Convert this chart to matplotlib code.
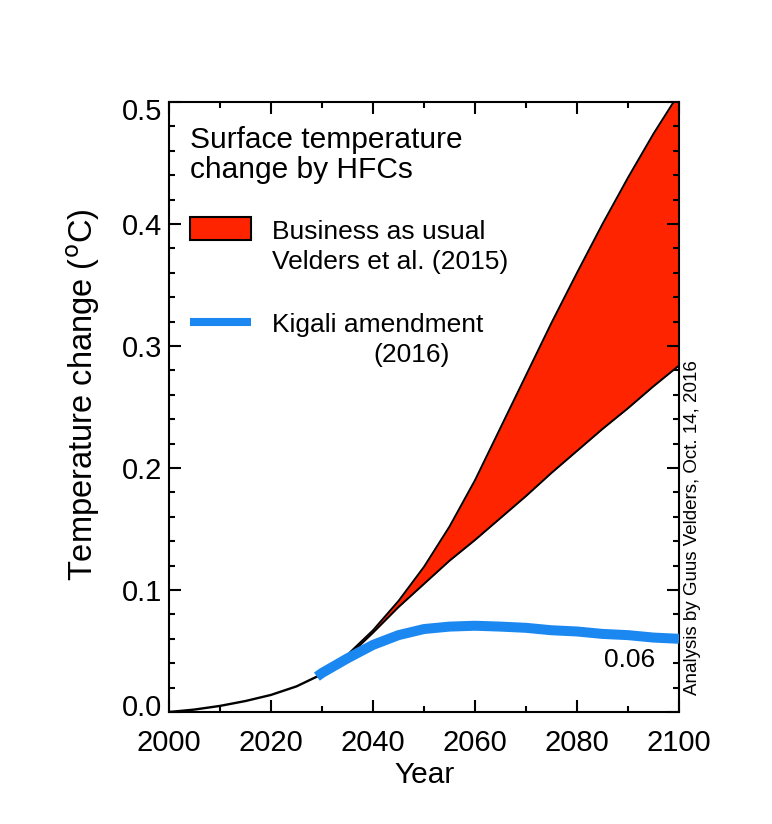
import matplotlib
matplotlib.use("Agg")
import matplotlib.pyplot as plt
import matplotlib.transforms as mtransforms
from matplotlib.patches import Rectangle
from matplotlib.lines import Line2D

plt.rcParams['font.family'] = ['Liberation Sans', 'DejaVu Sans']

# ---- data ----
hist_years = [2000, 2005, 2010, 2015, 2020, 2025, 2030]
hist_temp = [0.0, 0.002, 0.005, 0.009, 0.014, 0.021, 0.031]

bau_years = [2030, 2035, 2040, 2045, 2050, 2055, 2060, 2065, 2070, 2075,
             2080, 2085, 2090, 2095, 2100]
bau_high = [0.031, 0.047, 0.067, 0.091, 0.119, 0.152, 0.190, 0.233, 0.276,
            0.319, 0.360, 0.400, 0.438, 0.474, 0.507]
bau_low = [0.031, 0.045, 0.065, 0.086, 0.105, 0.124, 0.141, 0.159, 0.177,
           0.196, 0.214, 0.232, 0.249, 0.267, 0.284]

kigali_years = [2029, 2030, 2035, 2040, 2045, 2050, 2055, 2060, 2065, 2070,
                2075, 2080, 2085, 2090, 2095, 2100]
kigali_temp = [0.029, 0.032, 0.044, 0.055, 0.063, 0.068, 0.070, 0.0707, 0.070,
               0.069, 0.067, 0.066, 0.064, 0.063, 0.061, 0.060]

x_ticks = [2000, 2020, 2040, 2060, 2080, 2100]
y_ticks = [0.0, 0.1, 0.2, 0.3, 0.4, 0.5]
y_ticklabels = ['0.0', '0.1', '0.2', '0.3', '0.4', '0.5']

RED = '#ff2400'
BLUE = '#1a88f0'

fig = plt.figure(figsize=(7.72, 8.24), dpi=100)
ax = fig.add_axes([169 / 772, 1 - 712 / 824, 510 / 772, 610 / 824])

ax.fill_between(bau_years, bau_low, bau_high, color=RED, lw=0, zorder=1)
ax.plot(bau_years, bau_high, color='black', lw=1.4, zorder=2)
ax.plot(bau_years, bau_low, color='black', lw=1.4, zorder=2)
ax.plot(hist_years, hist_temp, color='black', lw=1.7, zorder=2)
ax.plot(kigali_years, kigali_temp, color=BLUE, lw=7.2,
        solid_capstyle='butt', zorder=3)

ax.set_xlim(2000, 2100)
ax.set_ylim(0.0, 0.5)
ax.set_xticks(x_ticks)
ax.set_xticks(range(2000, 2101, 10), minor=True)
ax.set_yticks(y_ticks)
ax.set_yticklabels(y_ticklabels)
ax.set_yticks([i * 0.02 for i in range(26)], minor=True)

ax.tick_params(which='both', direction='in', top=True, right=True,
               labelsize=21, width=1.5)
ax.tick_params(which='major', length=8.5)
ax.tick_params(which='minor', length=4.3)
ax.tick_params(axis='x', which='major', pad=12)
ax.tick_params(axis='y', which='major', pad=5)
for sp in ax.spines.values():
    sp.set_linewidth(1.5)

# IDL-like offsets for first/last y labels
ylabels = ax.get_yticklabels()
ylabels[0].set_transform(ylabels[0].get_transform() +
                         mtransforms.ScaledTranslation(0, 7 / 100, fig.dpi_scale_trans))
ylabels[-1].set_transform(ylabels[-1].get_transform() +
                          mtransforms.ScaledTranslation(0, -7 / 100, fig.dpi_scale_trans))

ax.set_xlabel('Year', fontsize=21.5, va='top')
ax.xaxis.set_label_coords(0.502, -0.080)
ax.set_ylabel('Temperature change ($^{\\rm o}$C)', fontsize=23.5)
ax.yaxis.set_label_coords(-0.131, 0.52)

# legend-like annotations
ax.text(0.041, 0.9246, 'Surface temperature', transform=ax.transAxes,
        fontsize=21.5, va='baseline', ha='left')
ax.text(0.041, 0.8754, 'change by HFCs', transform=ax.transAxes,
        fontsize=21.5, va='baseline', ha='left')
ax.add_patch(Rectangle((0.0412, 0.7738), 0.1196, 0.0377, transform=ax.transAxes,
                       facecolor=RED, edgecolor='black', lw=1.5, zorder=5))
ax.text(0.202, 0.7754, 'Business as usual', transform=ax.transAxes,
        fontsize=19, va='baseline', ha='left')
ax.text(0.202, 0.7262, 'Velders et al. (2015)', transform=ax.transAxes,
        fontsize=19, va='baseline', ha='left')
ax.add_line(Line2D([0.0412, 0.1608], [0.6393, 0.6393], transform=ax.transAxes,
                   color=BLUE, lw=5.8, solid_capstyle='butt'))
ax.text(0.202, 0.623, 'Kigali amendment', transform=ax.transAxes,
        fontsize=19, va='baseline', ha='left')
ax.text(0.40, 0.5738, '(2016)', transform=ax.transAxes,
        fontsize=19, va='baseline', ha='left')

ax.text(0.953, 0.0738, '0.06', transform=ax.transAxes,
        fontsize=19, va='baseline', ha='right')

ax.text(1.027, 0.028, 'Analysis by Guus Velders, Oct. 14, 2016',
        transform=ax.transAxes, fontsize=13.5, rotation=90,
        ha='center', va='bottom')

fig.savefig('out.png', dpi=100)
